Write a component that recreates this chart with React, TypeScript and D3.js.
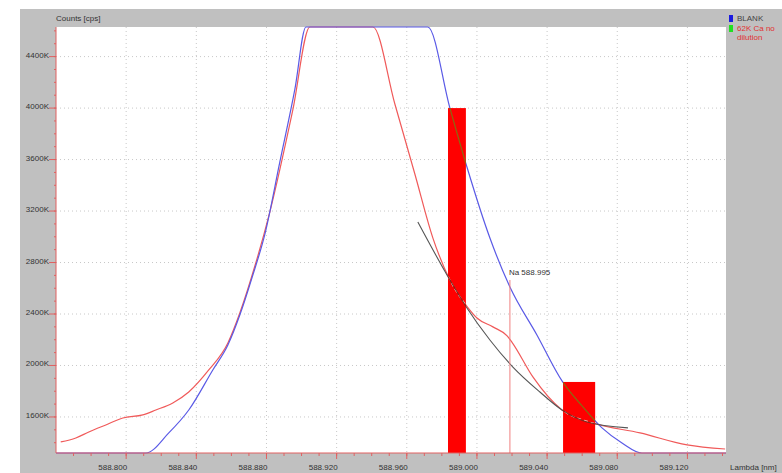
import React from "react";
import * as d3 from "d3";

// wavelength [nm] / counts [K cps]
const blankLambda = [588.7598, 588.8112, 588.8243, 588.8357, 588.8494, 588.858, 588.8648, 588.8717, 588.8791, 588.8876, 588.8962, 588.9025, 588.972, 588.9846, 588.9943, 589.0074, 589.0188, 589.0342, 589.0485, 589.0599, 589.0713, 589.0827, 589.0941, 589.142];
const blankCounts = [1320, 1320, 1476, 1654, 1965, 2159, 2392, 2680, 3021, 3580, 4147, 4630, 4630, 4000, 3542, 2990, 2610, 2237, 1880, 1686, 1515, 1398, 1320, 1320];

const sampleLambda = [588.7627, 588.7713, 588.7787, 588.7884, 588.7981, 588.8095, 588.8169, 588.8266, 588.8357, 588.8471, 588.858, 588.8648, 588.8739, 588.8819, 588.895, 588.9047, 588.9407, 588.9532, 588.9646, 588.9749, 588.9846, 588.9943, 589.0, 589.0091, 589.0172, 589.02, 589.0319, 589.0485, 589.0662, 589.093, 589.1198, 589.1415];
const sampleCounts = [1406, 1437, 1483, 1538, 1592, 1616, 1654, 1709, 1794, 1965, 2175, 2408, 2796, 3192, 3984, 4630, 4630, 4032, 3488, 2990, 2664, 2460, 2369, 2300, 2230, 2180, 1911, 1654, 1553, 1476, 1383, 1351];

const fitLambda = [588.9663, 588.9846, 588.9943, 589.0074, 589.0205, 589.0359, 589.0485, 589.0627, 589.0861];
const fitCounts = [3115, 2664, 2447, 2198, 1988, 1794, 1654, 1561, 1515];

const barStart = [588.9835, 589.0491];
const barEnd = [588.9937, 589.0674];
const barCounts = [4000, 1872];

const naLambda = 589.0188;
const naCounts = 2664;
const naLabel = "Na 588.995";

const xMajor = [588.8, 588.84, 588.88, 588.92, 588.96, 589.0, 589.04, 589.08, 589.12];
const yMajor = [1600, 2000, 2400, 2800, 3200, 3600, 4000, 4400];

const W = 782;
const H = 473;
const plot = { left: 56, top: 27, right: 726, bottom: 453 };
const font = "'Liberation Sans', Arial, sans-serif";

export default function App() {
  const x = d3.scaleLinear().domain([588.76, 589.142]).range([plot.left, plot.right]);
  const y = d3.scaleLinear().domain([1320, 4630]).range([plot.bottom, plot.top]).clamp(true);

  const line = d3
    .line<[number, number]>()
    .x((d) => x(d[0]))
    .y((d) => y(d[1]))
    .curve(d3.curveMonotoneX);

  const pts = (a: number[], b: number[]) => a.map((v, i) => [v, b[i]] as [number, number]);
  const blankPath = line(pts(blankLambda, blankCounts)) || "";
  const samplePath = line(pts(sampleLambda, sampleCounts)) || "";
  const fitPath = line(pts(fitLambda, fitCounts)) || "";

  const xMinor = d3.range(588.77, 589.141, 0.01);
  const yMinor = d3.range(1400, 4601, 100);

  return (
    <svg width={W} height={H} style={{ position: "absolute", left: 0, top: 0 }} fontFamily={font}>
      <rect width={W} height={H} fill="#fff" />
      <rect x={20} y={9} width={W - 20} height={H - 9} fill="#c0c0c0" />
      <rect x={plot.left} y={plot.top} width={plot.right - plot.left} height={plot.bottom - plot.top} fill="#fff" />

      <defs>
        <clipPath id="plotClip">
          <rect x={plot.left} y={plot.top - 1} width={plot.right - plot.left} height={plot.bottom - plot.top + 2} />
        </clipPath>
        <clipPath id="barClip">
          {barCounts.map((v, i) => (
            <rect key={i} x={x(barStart[i])} y={y(v)} width={x(barEnd[i]) - x(barStart[i])} height={plot.bottom - y(v)} />
          ))}
        </clipPath>
      </defs>

      {/* grid */}
      {xMajor.map((v) => (
        <line key={"gx" + v} x1={x(v)} x2={x(v)} y1={plot.top} y2={plot.bottom} stroke="#c8c8c8" strokeDasharray="1,3" />
      ))}
      {yMajor.map((v) => (
        <line key={"gy" + v} x1={plot.left} x2={plot.right} y1={y(v)} y2={y(v)} stroke="#c8c8c8" strokeDasharray="1,3" />
      ))}

      <g clipPath="url(#plotClip)" fill="none">
        <path d={samplePath} stroke="#f05a5a" strokeWidth={1.2} />
        <path d={blankPath} stroke="#5a5ae6" strokeWidth={1.2} />
        <path d={fitPath} stroke="#555" strokeWidth={1.1} />
      </g>

      {barCounts.map((v, i) => (
        <rect key={"b" + i} x={x(barStart[i])} y={y(v)} width={x(barEnd[i]) - x(barStart[i])} height={plot.bottom - y(v)} fill="#ff0000" />
      ))}
      <g clipPath="url(#barClip)" fill="none">
        <path d={blankPath} stroke="#8a6a10" strokeWidth={1.2} />
        <path d={samplePath} stroke="#f8d0c8" strokeWidth={1.2} strokeDasharray="4,3" />
        <path d={fitPath} stroke="#7a2a20" strokeWidth={1.1} />
      </g>

      {/* Na marker */}
      <line x1={x(naLambda)} x2={x(naLambda)} y1={y(naCounts)} y2={plot.bottom} stroke="#f08080" strokeWidth={1} />
      <text x={x(naLambda) - 1} y={y(naCounts) - 5} fontSize={8} fill="#333">{naLabel}</text>

      {/* axes */}
      <line x1={plot.left} x2={plot.left} y1={plot.top} y2={plot.bottom} stroke="#e06060" />
      <line x1={plot.left} x2={plot.right} y1={plot.bottom} y2={plot.bottom} stroke="#e06060" />
      {yMinor.map((v) => (
        <line key={"ym" + v} x1={plot.left - 2} x2={plot.left} y1={y(v)} y2={y(v)} stroke="#e06060" />
      ))}
      {yMajor.map((v) => (
        <g key={"yt" + v}>
          <line x1={plot.left - 7} x2={plot.left} y1={y(v)} y2={y(v)} stroke="#e06060" />
          <text x={plot.left - 7} y={y(v) + 1} textAnchor="end" fontSize={8} fill="#333">{v}K</text>
        </g>
      ))}
      {xMinor.map((v) => (
        <line key={"xm" + v} x1={x(v)} x2={x(v)} y1={plot.bottom} y2={plot.bottom + 3} stroke="#e06060" />
      ))}
      {xMajor.map((v) => (
        <g key={"xt" + v}>
          <line x1={x(v)} x2={x(v)} y1={plot.bottom} y2={plot.bottom + 6} stroke="#e06060" />
          <text x={x(v) + 1} y={470} textAnchor="end" fontSize={8} fill="#333">{d3.format(".3f")(v)}</text>
        </g>
      ))}

      <text x={plot.left} y={21} fontSize={8} fill="#333">Counts [cps]</text>
      <text x={730} y={470} fontSize={8} fill="#333">Lambda [nm]</text>

      {/* legend */}
      <rect x={729} y={15} width={4} height={7} fill="#1a1ae0" />
      <text x={737} y={21} fontSize={8} fill="#444">BLANK</text>
      <rect x={729} y={25} width={4} height={7} fill="#20e020" />
      <text x={737} y={31} fontSize={8} fill="#e03030">62K Ca no</text>
      <text x={737} y={40} fontSize={8} fill="#e03030">dilution</text>
    </svg>
  );
}
